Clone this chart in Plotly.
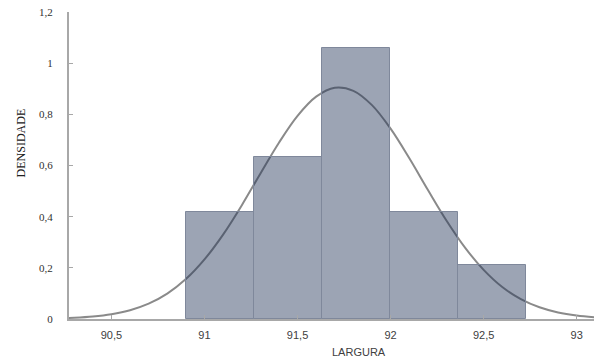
import plotly.graph_objects as go

# Histogram bins (class edges) and densities
bin_edges = [90.9, 91.265, 91.63, 91.995, 92.36, 92.725]
densities = [0.42, 0.635, 1.06, 0.42, 0.21]

# Fitted normal density curve
curve_x = [90.2, 90.3, 90.4, 90.5, 90.6, 90.7, 90.8, 90.9, 91.0, 91.1, 91.2,
           91.3, 91.4, 91.5, 91.6, 91.7, 91.8, 91.9, 92.0, 92.1, 92.2, 92.3,
           92.4, 92.5, 92.6, 92.7, 92.8, 92.9, 93.0, 93.1]
curve_y = [0.0022, 0.0048, 0.0097, 0.0188, 0.0344, 0.060, 0.0993, 0.156,
           0.233, 0.330, 0.444, 0.568, 0.689, 0.794, 0.869, 0.904, 0.892,
           0.836, 0.744, 0.629, 0.505, 0.385, 0.279, 0.192, 0.125, 0.0778,
           0.0458, 0.0256, 0.0136, 0.0069]

x_ticks = [90.5, 91, 91.5, 92, 92.5, 93]
y_ticks = [0, 0.2, 0.4, 0.6, 0.8, 1, 1.2]

centers = [(a + b) / 2 for a, b in zip(bin_edges[:-1], bin_edges[1:])]
widths = [b - a for a, b in zip(bin_edges[:-1], bin_edges[1:])]

X_RANGE = [90.272, 93.093]
Y_RANGE = [0, 1.2]

fig = go.Figure()
# curve drawn first (underneath the translucent bars)
fig.add_trace(go.Scatter(
    x=curve_x, y=curve_y, mode="lines", line_shape="spline",
    line=dict(color="#8a8a8a", width=2), hoverinfo="skip", showlegend=False,
    xaxis="x", yaxis="y"))
fig.add_trace(go.Bar(
    x=centers, y=densities, width=widths,
    marker=dict(color="rgba(30,48,84,0.44)",
                line=dict(color="#7f889b", width=1)),
    showlegend=False, xaxis="x2", yaxis="y2"))

fig.update_layout(
    width=594, height=358,
    margin=dict(l=69, r=0, t=12, b=39),
    paper_bgcolor="white", plot_bgcolor="white",
    separators=",.",
    bargap=0,
    xaxis=dict(
        range=X_RANGE, tickvals=x_ticks,
        showgrid=False, zeroline=False,
        showline=True, linecolor="#a8a8a8", linewidth=2,
        ticks="inside", ticklen=4, tickcolor="#a8a8a8",
        tickfont=dict(family="Liberation Sans, Arial", size=11, color="#404040"),
        ticklabelstandoff=5,
    ),
    yaxis=dict(
        range=Y_RANGE, tickvals=y_ticks,
        showgrid=False, zeroline=False,
        showline=True, linecolor="#a8a8a8", linewidth=2,
        ticks="inside", ticklen=4, tickcolor="#a8a8a8",
        tickfont=dict(family="Liberation Serif, Times New Roman", size=11, color="#303030"),
        ticklabelstandoff=12,
    ),
    xaxis2=dict(range=X_RANGE, overlaying="x", visible=False),
    yaxis2=dict(range=Y_RANGE, overlaying="y", visible=False),
    annotations=[
        dict(text="LARGURA", xref="paper", yref="paper", x=0.552, y=0,
             yshift=-33, xanchor="center", yanchor="middle", showarrow=False,
             font=dict(family="Liberation Sans, Arial", size=11, color="#404040")),
        dict(text="DENSIDADE", xref="paper", yref="paper", x=0, y=0.572,
             xshift=-48, xanchor="center", yanchor="middle", textangle=-90,
             showarrow=False,
             font=dict(family="Liberation Serif, Times New Roman", size=12, color="#202020")),
    ],
)

fig.write_html("out.html")
